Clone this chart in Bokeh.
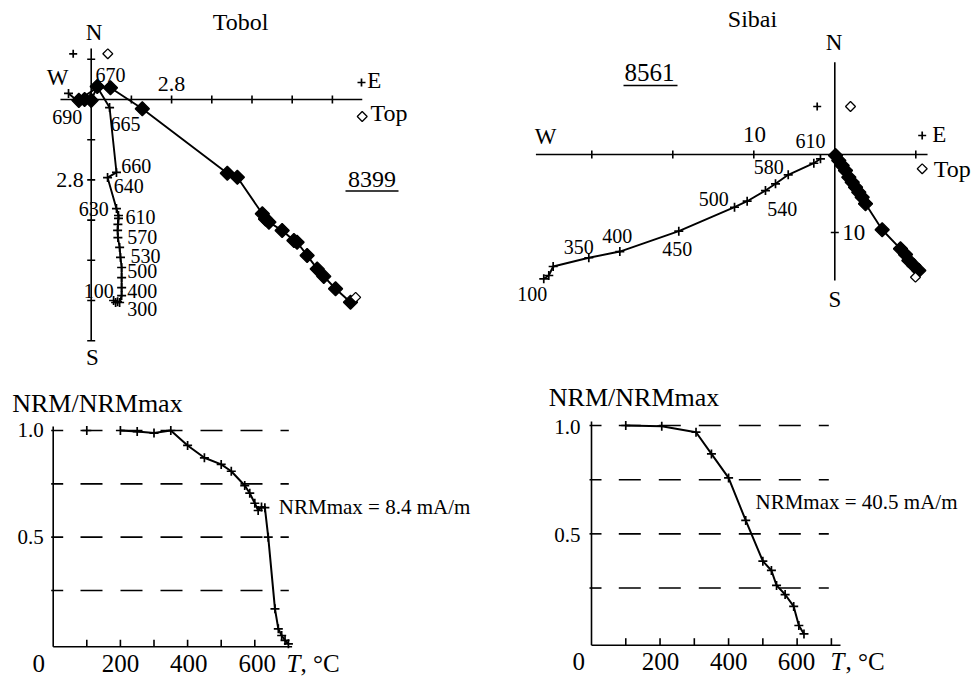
import math
from bokeh.plotting import figure
from bokeh.layouts import column, row
from bokeh.models import Range1d
from bokeh.core.properties import value
from bokeh.embed import file_html
from bokeh.resources import INLINE

FONT = "Liberation Serif"

# ---------------- data ----------------
# Tobol, sample 8399 - Zijderveld diagram (axis units, tick step 1.4)
tob_h_e = [0.78, 0.85, 0.92, 0.99, 1.06, 1.06, 1.06, 1.06, 1.02, 0.99, 0.93, 0.92, 0.93,
           0.95, 0.95, 0.88, 0.57, 0.88, 0.64, 0.22, -0.48, -0.79]
tob_h_n = [-7.00, -7.07, -7.04, -7.07, -6.83, -6.55, -6.20, -5.85, -5.50, -5.15, -4.81,
           -4.56, -4.35, -4.14, -4.04, -3.80, -2.72, -2.54, -0.28, 0.42, -0.04, 0.21]
tob_v_e = [9.21, 9.03, 8.51, 8.10, 7.87, 7.52, 7.17, 7.06, 6.65, 6.19, 6.07, 5.96, 5.09,
           4.74, 1.78, 0.67, 0.21, 0.00, -0.23, -0.43]
tob_v_u = [-6.89, -7.06, -6.59, -6.16, -5.90, -5.43, -4.97, -4.91, -4.56, -4.27, -4.16,
           -3.98, -2.71, -2.57, -0.32, 0.41, 0.45, -0.03, 0.00, -0.03]
tob_x_ticks = [1.4, 2.8, 4.2, 5.6, 7.0, 8.4]
tob_y_ticks = [1.4, -1.4, -2.8, -4.2, -5.6, -7.0, -8.4]
tob_x_bounds = [-1.07, 9.44]
tob_y_bounds = [-8.39, 1.78]
tob_temps = ["670", "690", "665", "660", "640", "630", "610", "570", "530", "500", "400", "300", "100"]

# Sibai, sample 8561 - Zijderveld diagram (axis units, tick step 10)
sib_h_e = [-35.93, -35.31, -34.77, -30.37, -26.54, -19.26, -12.38, -10.82, -8.56, -7.32,
           -5.75, -2.59, -1.77]
sib_h_n = [-15.94, -15.51, -14.36, -13.24, -12.44, -9.83, -6.76, -5.99, -4.62, -3.76,
           -2.60, -1.12, -0.55]
sib_v_e = [9.96, 10.37, 9.75, 9.14, 8.73, 8.11, 5.85, 3.79, 3.38, 2.96, 2.56, 2.15, 1.73,
           1.32, 0.91, 0.49, 0.09]
sib_v_u = [-15.73, -14.87, -14.23, -13.59, -12.82, -12.09, -9.65, -6.32, -5.47, -4.83,
           -4.19, -3.55, -2.91, -2.05, -1.41, -0.77, -0.13]
sib_x_ticks = [-30, -20, -10, 10]
sib_y_ticks = [-10]
sib_x_bounds = [-36.9, 11.45]
sib_y_bounds = [-16.15, 11.83]
sib_temps = ["610", "580", "500", "540", "350", "400", "450", "100"]

# Thermal demagnetization curves
tob_T = [100, 200, 250, 300, 350, 400, 450, 500, 530, 570, 585, 600, 610, 620, 630, 640,
         660, 670, 680, 690, 700]
tob_M = [1.0, 1.0, 0.995, 0.988, 1.0, 0.93, 0.872, 0.841, 0.809, 0.742, 0.706, 0.659,
         0.625, 0.641, 0.638, 0.50, 0.164, 0.07, 0.039, 0.016, 0.0]
sib_T = [100, 205, 305, 350, 400, 450, 500, 525, 540, 565, 590, 605, 620]
sib_M = [1.0, 0.997, 0.969, 0.869, 0.758, 0.562, 0.374, 0.331, 0.262, 0.22, 0.165,
         0.077, 0.038]
level_lines = [1.0, 0.75, 0.5, 0.25]
tob_T_ticks = [100, 200, 300, 400, 500, 600]
sib_T_ticks = [100, 200, 300, 400, 500, 600, 700]
T_labels = ["200", "400", "600"]
M_labels = ["1.0", "0.5"]


# ---------------- layout helpers ----------------
class Panel:
    def __init__(self, left, top, w, h, ox, oy, kx, ky):
        self.left, self.top, self.w, self.h = left, top, w, h
        self.ox, self.oy, self.kx, self.ky = ox, oy, kx, ky

    def X(self, px):
        return (px - self.ox) * self.kx

    def Y(self, py):
        return (self.oy - py) * self.ky

    def make(self):
        p = figure(width=self.w, height=self.h,
                   x_range=Range1d(self.X(self.left), self.X(self.left + self.w)),
                   y_range=Range1d(self.Y(self.top + self.h), self.Y(self.top)),
                   x_axis_location=None, y_axis_location=None,
                   toolbar_location=None, output_backend="svg", min_border=0,
                   outline_line_color=None, background_fill_color="white",
                   border_fill_color="white")
        p.xgrid.visible = False
        p.ygrid.visible = False
        return p


BASE_FIX = 0.33  # measured shift of the rendered baseline, in em


def txt(p, P, xpx, ypx, s, size, align="left", style="normal"):
    p.text(x=[P.X(xpx)], y=[P.Y(ypx - BASE_FIX * size)], text=[s], text_font=value(FONT),
           text_font_size=value(f"{size}px"), text_align=align,
           text_baseline="alphabetic", text_font_style=style, text_color="black")


def cross(p, xs, ys, size=9):
    p.scatter(xs, ys, marker="cross", size=size, line_width=1.7, line_color="black")


def dia(p, xs, ys, size=8, filled=True):
    p.scatter(xs, ys, marker="square", angle=math.pi / 4, size=size,
              fill_color="black" if filled else "white", line_color="black",
              line_width=1.3)


def zij_axes(p, P, xb, yb, xt, yt, tick_px=4):
    kw = dict(line_color="black", line_width=1.6)
    p.segment(x0=[xb[0]], y0=[0], x1=[xb[1]], y1=[0], **kw)
    p.segment(x0=[0], y0=[yb[0]], x1=[0], y1=[yb[1]], **kw)
    hy, hx = tick_px * P.ky, tick_px * P.kx
    p.segment(x0=xt, y0=[-hy] * len(xt), x1=xt, y1=[hy] * len(xt), **kw)
    p.segment(x0=[-hx] * len(yt), y0=yt, x1=[hx] * len(yt), y1=yt, **kw)


# ---------------- Tobol Zijderveld ----------------
PA = Panel(0, 0, 488, 370, 90.7, 99, 1.4 / 40.2, 1.4 / 40.2)
pa = PA.make()
zij_axes(pa, PA, tob_x_bounds, tob_y_bounds, tob_x_ticks, tob_y_ticks)
pa.line(tob_h_e, tob_h_n, line_color="black", line_width=1.9)
cross(pa, tob_h_e, tob_h_n)
pa.line(tob_v_e, tob_v_u, line_color="black", line_width=1.9)
dia(pa, tob_v_e[1:], tob_v_u[1:], size=10)
dia(pa, tob_v_e[:1], tob_v_u[:1], size=7, filled=False)
txt(pa, PA, 240, 29.3, "Tobol", 24, "center")
txt(pa, PA, 93.5, 40, "N", 23, "center")
txt(pa, PA, 92, 365, "S", 23, "center")
txt(pa, PA, 57, 85, "W", 23, "center")
txt(pa, PA, 366.7, 87.3, "E", 23)
txt(pa, PA, 370, 120, "Top", 24)
cross(pa, [PA.X(361)], [PA.Y(82)], 8)
dia(pa, [PA.X(361.7)], [PA.Y(116)], 7, filled=False)
cross(pa, [PA.X(72.7)], [PA.Y(53.3)], 8)
dia(pa, [PA.X(107.3)], [PA.Y(53.3)], 7, filled=False)
txt(pa, PA, 171, 90.7, "2.8", 22, "center")
txt(pa, PA, 83.3, 186.7, "2.8", 22, "right")
txt(pa, PA, 371.5, 186.7, "8399", 24, "center")
pa.segment(x0=[PA.X(345)], y0=[PA.Y(190.5)], x1=[PA.X(398)], y1=[PA.Y(190.5)],
           line_color="black", line_width=1.5)
tob_lbl_pos = [(95, 80.7), (51.7, 123.3), (110, 130), (120.7, 171.7), (113.3, 191.7),
               (78.3, 215), (125, 222.7), (126.7, 242.7), (130, 261.7), (126.7, 276.7),
               (126.7, 296.7), (126.7, 315), (83.3, 296.7)]
for s, (lx, ly) in zip(tob_temps, tob_lbl_pos):
    txt(pa, PA, lx, ly, s, 20)

# ---------------- Sibai Zijderveld ----------------
PB = Panel(488, 0, 489, 370, 834.3, 154, 10 / 81, 10 / 78)
pb = PB.make()
zij_axes(pb, PB, sib_x_bounds, sib_y_bounds, sib_x_ticks, sib_y_ticks)
pb.line(sib_h_e, sib_h_n, line_color="black", line_width=1.9)
cross(pb, sib_h_e, sib_h_n)
pb.line(sib_v_e, sib_v_u, line_color="black", line_width=1.9)
dia(pb, sib_v_e[1:], sib_v_u[1:], size=10)
dia(pb, sib_v_e[:1], sib_v_u[:1], size=7, filled=False)
txt(pb, PB, 752, 26.7, "Sibai", 24, "center")
txt(pb, PB, 833.5, 50, "N", 23, "center")
txt(pb, PB, 834.5, 306.7, "S", 23, "center")
txt(pb, PB, 545, 143.3, "W", 23, "center")
txt(pb, PB, 931.7, 141.7, "E", 23)
txt(pb, PB, 933.3, 176, "Top", 24)
cross(pb, [PB.X(921.7)], [PB.Y(135)], 8)
dia(pb, [PB.X(921.7)], [PB.Y(168.3)], 7, filled=False)
cross(pb, [PB.X(816.7)], [PB.Y(106)], 8)
dia(pb, [PB.X(850)], [PB.Y(106)], 7, filled=False)
txt(pb, PB, 754, 141.7, "10", 23, "center")
txt(pb, PB, 841.7, 240, "10", 23)
txt(pb, PB, 649, 80, "8561", 25, "center")
pb.segment(x0=[PB.X(623)], y0=[PB.Y(85)], x1=[PB.X(677)], y1=[PB.Y(85)],
           line_color="black", line_width=1.5)
sib_lbl_pos = [(795, 146.7), (753.3, 173.3), (698.3, 205), (766.7, 215), (563.3, 253.3),
               (601.7, 241.7), (661.7, 255), (516.7, 300)]
for s, (lx, ly) in zip(sib_temps, sib_lbl_pos):
    txt(pb, PB, lx, ly, s, 20)


# ---------------- demagnetization curves ----------------
def demag(P, T, M, line_from, T_ticks, spine_T_end, dash_px, lab_pos, nrm_text, nrm_pos,
          title_pos, ttl_T_pos, zero_x, tick_lab_x, base_y):
    p = P.make()
    kw = dict(line_color="black", line_width=1.6)
    y0 = P.Y(P.oy + 3)          # bottom spine slightly below zero
    p.segment(x0=[0], y0=[y0], x1=[spine_T_end], y1=[y0], **kw)
    p.segment(x0=[0], y0=[y0], x1=[0], y1=[1.0 + 4 * P.ky], **kw)
    p.segment(x0=T_ticks, y0=[y0] * len(T_ticks), x1=T_ticks,
              y1=[y0 + 7 * P.ky] * len(T_ticks), **kw)
    p.segment(x0=[-2 * P.kx] * 4, y0=level_lines, x1=[10 * P.kx] * 4, y1=level_lines, **kw)
    for lv in level_lines:
        p.line([P.X(dash_px[0]), P.X(dash_px[1])], [lv, lv], line_color="black",
               line_width=1.6, line_dash="22 18")
    p.line(T[line_from:], M[line_from:], line_color="black", line_width=2.0)
    cross(p, T, M)
    txt(p, P, title_pos[0], title_pos[1], "NRM/NRMmax", 26)
    for s, (rx, by) in zip(M_labels, lab_pos):
        txt(p, P, rx, by, s, 21, "right")
    txt(p, P, zero_x, base_y, "0", 25, "center")
    for s, cx in zip(T_labels, tick_lab_x):
        txt(p, P, cx, base_y, s, 25, "center")
    txt(p, P, ttl_T_pos[0], base_y, "T", 25, style="italic")
    txt(p, P, ttl_T_pos[1], base_y, ", °C", 25)
    txt(p, P, nrm_pos[0], nrm_pos[1], nrm_text, 21)
    return p


PC = Panel(0, 370, 488, 309, 52.7, 643.3, 1 / 0.336, 1 / 213.3)
pc = demag(PC, tob_T, tob_M, 1, tob_T_ticks, 711, (80, 288.3),
           [(43.3, 436.7), (43.3, 543.3)], "NRMmax = 8.4 mA/m", (278.3, 513.3),
           (11.7, 411.7), (286, 300), 38.3, [120, 188.3, 256.7], 671)

PD = Panel(488, 370, 489, 309, 591, 641.7, 1 / 0.3427, 1 / 216.7)
pd_ = demag(PD, sib_T, sib_M, 0, sib_T_ticks, 726.6, (618.3, 828.3),
            [(580, 433.3), (580, 541.7)], "NRMmax = 40.5 mA/m", (755, 508.3),
            (548.3, 406), (830, 845), 578.3, [660, 728.3, 796], 669.5)

layout = column(row(pa, pb), row(pc, pd_))
open("out.html", "w").write(file_html(layout, INLINE))
